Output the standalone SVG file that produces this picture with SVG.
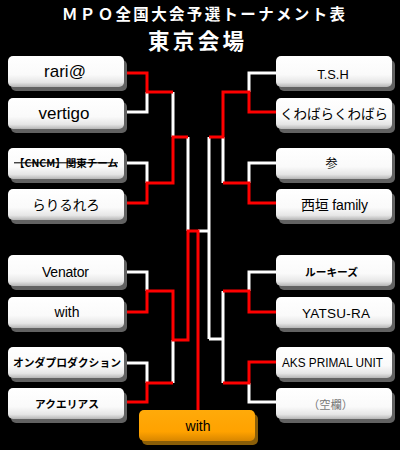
<svg xmlns="http://www.w3.org/2000/svg" width="400" height="450" viewBox="0 0 400 450">
<defs>
<linearGradient id="gw" x1="0" y1="0" x2="0" y2="1">
<stop offset="0" stop-color="#ffffff"/>
<stop offset="0.6" stop-color="#fafafa"/>
<stop offset="0.85" stop-color="#e6e6e6"/>
<stop offset="1" stop-color="#b5b5b5"/>
</linearGradient>
<linearGradient id="go" x1="0" y1="0" x2="0" y2="1">
<stop offset="0" stop-color="#ffaa0a"/>
<stop offset="0.7" stop-color="#ffa200"/>
<stop offset="1" stop-color="#d88600"/>
</linearGradient>
<style>
.sh{fill:#626262}
.bx{fill:url(#gw)}
.t{font-family:"Liberation Sans","Noto Sans CJK JP",sans-serif;fill:#000;text-anchor:middle}
.j{font-family:"Noto Sans CJK JP","Liberation Sans",sans-serif;fill:#000;text-anchor:middle}
.b{font-weight:bold}
.r{stroke:#ff0000;stroke-width:3;fill:none;stroke-linejoin:miter}
.w{stroke:#ffffff;stroke-width:3;fill:none;stroke-linejoin:miter}
.ttl{font-family:"Noto Sans CJK JP","Liberation Sans",sans-serif;fill:#fff;font-weight:bold}
</style>
</defs>
<rect x="0" y="0" width="400" height="450" fill="#000"/>
<g id="title">
<text class="ttl" x="62" y="19.5" font-size="15.5" textLength="283" lengthAdjust="spacing">ＭＰＯ全国大会予選トーナメント表</text>
<text class="ttl" x="148" y="48.5" font-size="21.5" textLength="96" lengthAdjust="spacing">東京会場</text>
</g>
<g id="connectors">
<path class="w" d="M124,112 H147 V92"/>
<path class="w" d="M124,163 H147 V183"/>
<path class="w" d="M173,92 V137"/>
<path class="w" d="M188,137 V231"/>
<path class="w" d="M124,272 H147 V291"/>
<path class="w" d="M124,363 H147 V383"/>
<path class="w" d="M173,340 V383"/>
<path class="w" d="M276,73 H249 V92"/>
<path class="w" d="M276,163 H249 V183"/>
<path class="w" d="M223,137 V183"/>
<path class="w" d="M209,137 V339"/>
<path class="w" d="M198,231 H209"/>
<path class="w" d="M276,272 H249 V291"/>
<path class="w" d="M276,402 H249 V383"/>
<path class="w" d="M223,291 V383"/>
<path class="w" d="M209,339 H223"/>
<path class="r" d="M124,73 H147 V92 H173"/>
<path class="r" d="M124,203 H147 V183 H173 V137 H188"/>
<path class="r" d="M124,312 H147 V291 H173 V340 H188 V231 H198 V410"/>
<path class="r" d="M124,402 H147 V383 H173"/>
<path class="r" d="M276,112 H249 V92 H223 V137 H209"/>
<path class="r" d="M276,203 H249 V183 H223"/>
<path class="r" d="M276,312 H249 V291 H223"/>
<path class="r" d="M276,362 H249 V383 H223"/>
</g>
<g id="n-rari">
<rect class="sh" x="11" y="60" width="116" height="31" rx="5"/>
<rect class="bx" x="8" y="56" width="116" height="31" rx="5"/>
<text class="t" x="65" y="77" font-size="17">rari@</text>
</g>
<g id="n-vertigo">
<rect class="sh" x="11" y="102" width="116" height="31" rx="5"/>
<rect class="bx" x="8" y="98" width="116" height="31" rx="5"/>
<text class="t" x="64" y="118.5" font-size="17">vertigo</text>
</g>
<g id="n-cncm">
<rect class="sh" x="11" y="152" width="116" height="31" rx="5"/>
<rect class="bx" x="8" y="148" width="116" height="31" rx="5"/>
<text class="j b" x="66" y="166.8" font-size="10.5" textLength="104" lengthAdjust="spacingAndGlyphs" text-decoration="line-through">【CNCM】関東チーム</text>
</g>
<g id="n-rariru">
<rect class="sh" x="11" y="193" width="116" height="31" rx="5"/>
<rect class="bx" x="8" y="189" width="116" height="31" rx="5"/>
<text class="j" x="66" y="209.5" font-size="13.5">らりるれろ</text>
</g>
<g id="n-venator">
<rect class="sh" x="11" y="259" width="116" height="31" rx="5"/>
<rect class="bx" x="8" y="255" width="116" height="31" rx="5"/>
<text class="t" x="65.5" y="276.5" font-size="14" textLength="47">Venator</text>
</g>
<g id="n-with">
<rect class="sh" x="11" y="301" width="116" height="31" rx="5"/>
<rect class="bx" x="8" y="297" width="116" height="31" rx="5"/>
<text class="t" x="67" y="317.3" font-size="14">with</text>
</g>
<g id="n-onda">
<rect class="sh" x="11" y="351" width="116" height="31" rx="5"/>
<rect class="bx" x="8" y="347" width="116" height="31" rx="5"/>
<text class="j b" x="67" y="366.8" font-size="10.8" textLength="108" lengthAdjust="spacingAndGlyphs">オンダプロダクション</text>
</g>
<g id="n-aqua">
<rect class="sh" x="11" y="392" width="116" height="31" rx="5"/>
<rect class="bx" x="8" y="388" width="116" height="31" rx="5"/>
<text class="j b" x="67" y="407.8" font-size="10.7" textLength="64" lengthAdjust="spacing">アクエリアス</text>
</g>
<g id="n-tsh">
<rect class="sh" x="279" y="60" width="116" height="31" rx="5"/>
<rect class="bx" x="276" y="56" width="116" height="31" rx="5"/>
<text class="t" x="333" y="78.5" font-size="12.8">T.S.H</text>
</g>
<g id="n-kuwabara">
<rect class="sh" x="279" y="102" width="116" height="31" rx="5"/>
<rect class="bx" x="276" y="98" width="116" height="31" rx="5"/>
<text class="j" x="334" y="118.5" font-size="13.5" textLength="108" lengthAdjust="spacingAndGlyphs">くわばらくわばら</text>
</g>
<g id="n-san">
<rect class="sh" x="279" y="152" width="116" height="31" rx="5"/>
<rect class="bx" x="276" y="148" width="116" height="31" rx="5"/>
<text class="j" x="331.5" y="167.5" font-size="12">参</text>
</g>
<g id="n-nishigaki">
<rect class="sh" x="279" y="193" width="116" height="31" rx="5"/>
<rect class="bx" x="276" y="189" width="116" height="31" rx="5"/>
<text class="t" x="334.5" y="210" font-size="14" textLength="67">西垣 family</text>
</g>
<g id="n-rookies">
<rect class="sh" x="279" y="259" width="116" height="31" rx="5"/>
<rect class="bx" x="276" y="255" width="116" height="31" rx="5"/>
<text class="j b" x="331.5" y="276" font-size="10.6" textLength="53" lengthAdjust="spacingAndGlyphs">ルーキーズ</text>
</g>
<g id="n-yatsura">
<rect class="sh" x="279" y="301" width="116" height="31" rx="5"/>
<rect class="bx" x="276" y="297" width="116" height="31" rx="5"/>
<text class="t" x="336" y="318.2" font-size="13.5" textLength="68">YATSU-RA</text>
</g>
<g id="n-aks">
<rect class="sh" x="279" y="351" width="116" height="31" rx="5"/>
<rect class="bx" x="276" y="347" width="116" height="31" rx="5"/>
<text class="t" x="332.5" y="366.5" font-size="12.5" textLength="101" lengthAdjust="spacingAndGlyphs">AKS PRIMAL UNIT</text>
</g>
<g id="n-blank">
<rect class="sh" x="279" y="392" width="116" height="31" rx="5"/>
<rect class="bx" x="276" y="388" width="116" height="31" rx="5"/>
<text class="j" x="330.5" y="408.5" font-size="11.3" style="fill:#777">（空欄）</text>
</g>
<g id="n-final">
<rect x="142" y="414" width="116" height="31" rx="5" fill="#8a5e08"/>
<rect x="139" y="410" width="116" height="31" rx="5" fill="url(#go)"/>
<text class="t" x="198" y="430.5" font-size="14">with</text>
</g>
</svg>
